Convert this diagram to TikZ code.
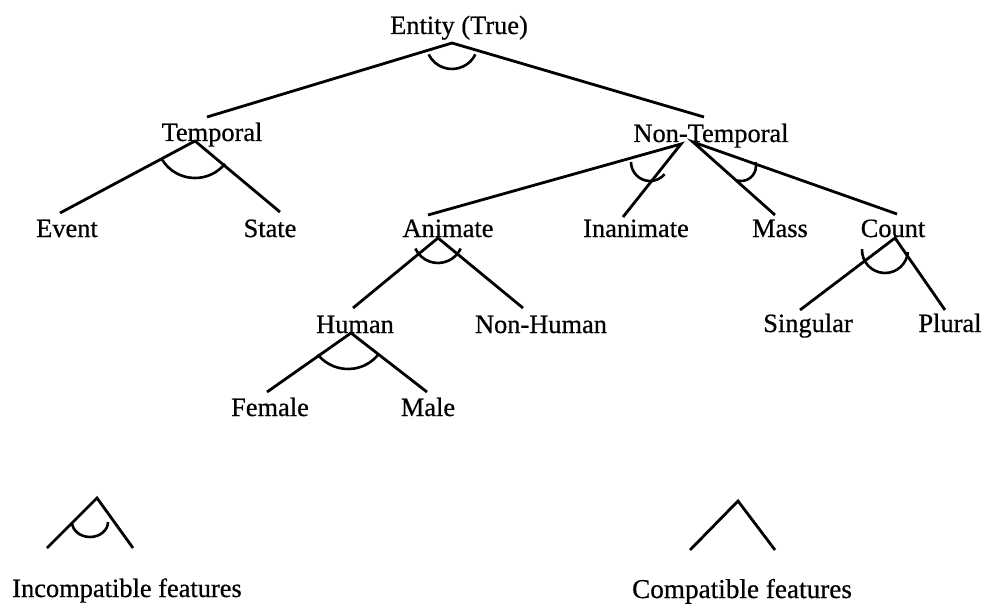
\documentclass[tikz,border=0pt]{standalone}
\usepackage{fontspec}
\setmainfont{Liberation Serif}[FakeBold=0.6]
\usetikzlibrary{calc}
\begin{document}
\begin{tikzpicture}[x=1pt,y=-1pt,
  lbl/.style={anchor=base, inner sep=0pt, font=\fontsize{26.4}{30}\selectfont},
  branch/.style={line width=2.8pt},
  excl/.style={line width=2.6pt}]
\fill[white] (0,0) rectangle (984,604);
\useasboundingbox (0,0) rectangle (984,604);

% labels
\node[lbl] (entity)    at (459,34)  {Entity (True)};
\node[lbl] (temporal)  at (212,141) {Temporal};
\node[lbl] (nontemp)   at (711,142) {Non-Temporal};
\node[lbl] (event)     at (67,237)  {Event};
\node[lbl] (state)     at (270,237) {State};
\node[lbl] (animate)   at (448,237) {Animate};
\node[lbl] (inanimate) at (636,237) {Inanimate};
\node[lbl] (mass)      at (780,237) {Mass};
\node[lbl] (count)     at (893,237) {Count};
\node[lbl] (human)     at (355,333) {Human};
\node[lbl] (nonhuman)  at (541,333) {Non-Human};
\node[lbl] (singular)  at (808,332) {Singular};
\node[lbl] (plural)    at (950,332) {Plural};
\node[lbl] (female)    at (270,416) {Female};
\node[lbl] (male)      at (428,416) {Male};
\node[lbl] (inclegend) at (127,597) {Incompatible features};
\node[lbl, font=\fontsize{27.2}{30}\selectfont] (comlegend) at (742,598) {Compatible features};

% junction points below a label and line ends above a label
\coordinate (entity-j)    at (452,43);
\coordinate (temporal-t)  at (207,117);
\coordinate (temporal-j)  at (195,141);
\coordinate (nontemp-t)   at (704,117);
\coordinate (nontemp-jl)  at (681,144);
\coordinate (nontemp-jr)  at (693,142);
\coordinate (event-t)     at (60,213);
\coordinate (state-t)     at (280,212);
\coordinate (animate-t)   at (428,215);
\coordinate (animate-j)   at (438,238);
\coordinate (inanimate-t) at (623,217);
\coordinate (mass-t)      at (775,215);
\coordinate (count-t)     at (897,214);
\coordinate (count-j)     at (895,238);
\coordinate (human-t)     at (353,308);
\coordinate (human-j)     at (351,333);
\coordinate (nonhuman-t)  at (523,308);
\coordinate (female-t)    at (267,392);
\coordinate (male-t)      at (427,392);
\coordinate (singular-t)  at (800,310);
\coordinate (plural-t)    at (945,310);

% legend glyphs
\coordinate (inc-j) at (97,498);
\coordinate (inc-l) at (47,548);
\coordinate (inc-r) at (133,548);
\coordinate (com-j) at (738,501);
\coordinate (com-l) at (690,550);
\coordinate (com-r) at (775,550);

% branches
\draw[branch] (temporal-t) -- (entity-j) -- (nontemp-t);
\draw[branch] (event-t) -- (temporal-j) -- (state-t);
\draw[branch] (animate-t) -- (nontemp-jl) -- (inanimate-t);
\draw[branch] (mass-t) -- (nontemp-jr) -- (count-t);
\draw[branch] (human-t) -- (animate-j) -- (nonhuman-t);
\draw[branch] (female-t) -- (human-j) -- (male-t);
\draw[branch] (singular-t) -- (count-j) -- (plural-t);
\draw[branch] (inc-l) -- (inc-j) -- (inc-r);
\draw[branch] (com-l) -- (com-j) -- (com-r);

% incompatibility arcs (angles measured with y pointing down)
\draw[excl] (452,43) ++(154:26) arc[start angle=154, end angle=26, radius=26];
\draw[excl] (195,141) ++(150:38 and 37) arc[start angle=150, end angle=38, x radius=38, y radius=37];
\draw[excl] (650,162) ++(180:19) arc[start angle=180, end angle=40, radius=19];
\draw[excl] (741,166) ++(105:15) arc[start angle=105, end angle=-15, radius=15];
\draw[excl] (438,238) ++(155:25) arc[start angle=155, end angle=25, radius=25];
\draw[excl] (348,330) ++(141:39) arc[start angle=141, end angle=39, radius=39];
\draw[excl] (885,250) ++(182:23) arc[start angle=182, end angle=5, radius=23];
\draw[excl] (90,522) ++(180:18 and 15) arc[start angle=180, end angle=0, x radius=18, y radius=15];
\end{tikzpicture}
\end{document}
